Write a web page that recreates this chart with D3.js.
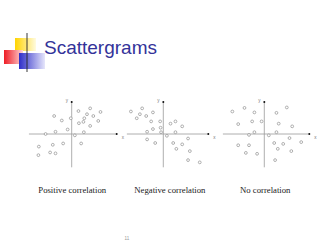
<!DOCTYPE html>
<html>
<head>
<meta charset="utf-8">
<script src="https://cdn.jsdelivr.net/npm/d3@7"></script>
<style>
  html, body { margin: 0; padding: 0; background: #fff; }
  svg { display: block; }
</style>
</head>
<body>
<div id="chart"></div>
<script>
(function () {
  "use strict";

  // ── data (units relative to each panel's origin) ──
  var positivePoints = [
    [4.1, 5.7], [1.5, 5.1], [6.4, 4.9], [3.4, 4.4], [-3.9, 4.0], [4.8, 4.0],
    [2.8, 3.5], [-0.2, 3.5], [-2.2, 3.0], [2.6, 2.7], [5.9, 2.9], [1.6, 2.4],
    [4.1, 1.8], [-0.9, 1.0], [-3.6, 0.5], [2.7, 0.4], [-5.8, 0.0], [0.7, -0.3],
    [-1.9, -2.1], [2.1, -2.1], [-4.2, -2.4], [-7.3, -2.8], [-4.8, -4.1],
    [-3.6, -4.3], [-7.4, -4.7]
  ];
  var negativePoints = [
    [-7.2, 5.0], [-4.7, 5.7], [-5.2, 4.4], [-3.8, 4.0], [-2.3, 4.8], [-5.9, 3.5],
    [-2.7, 2.8], [-0.7, 2.8], [1.6, 2.3], [2.7, 2.8], [-0.6, 1.4], [-2.3, 1.1],
    [4.2, 1.7], [-3.6, 0.5], [-0.5, 0.4], [2.7, 0.4], [0.8, -0.4], [5.5, -1.0],
    [-3.6, -1.2], [-1.8, -2.0], [2.2, -2.0], [4.2, -2.3], [2.9, -3.3],
    [5.9, -3.8], [5.5, -5.8], [8.1, -6.3]
  ];
  var noPoints = [
    [-7.1, 5.0], [-4.4, 5.8], [-2.2, 4.8], [5.0, 5.9], [2.7, 4.7], [-5.8, 2.2],
    [-2.7, 2.8], [-0.6, 2.8], [3.2, 2.3], [6.2, 1.7], [-2.2, 0.4], [-3.4, -0.2],
    [1.0, -0.3], [2.7, 0.4], [5.6, -0.9], [8.2, -1.8], [2.2, -2.0], [4.2, -2.2],
    [-5.8, -2.5], [-3.4, -2.5], [3.0, -3.3], [6.0, -3.8], [-4.1, -4.2],
    [-1.6, -4.4], [2.4, -5.8]
  ];
  var captions = ["Positive correlation", "Negative correlation", "No correlation"];
  var axisX = [[-9.5, 10], [-8.1, 10], [-9.2, 10]];
  var axisY = [-7.4, 7.2];

  var W = 320, H = 240;
  var FONT = "'Liberation Sans', Arial, sans-serif";
  var SERIF = "'Liberation Serif', 'Times New Roman', serif";
  var AXIS = "#9a9a9a";

  var svg = d3.select("#chart").append("svg")
    .attr("width", W).attr("height", H)
    .attr("viewBox", "0 0 " + W + " " + H);

  var defs = svg.append("defs");
  function fade(id, c0, c1) {
    var g = defs.append("linearGradient").attr("id", id);
    g.append("stop").attr("offset", "0%").attr("stop-color", c0);
    g.append("stop").attr("offset", "100%").attr("stop-color", c1);
  }
  fade("g-yellow", "#ffd400", "#fffbe0");
  fade("g-red", "#ee1c25", "#ffd6d6");
  fade("g-blue", "#2e2ec8", "#e6e6fb");
  fade("g-rule", "#8a8a8a", "#ffffff");

  // Title decoration
  svg.append("rect").attr("x", 15).attr("y", 38).attr("width", 21).attr("height", 13)
    .attr("fill", "url(#g-yellow)");
  svg.append("rect").attr("x", 4).attr("y", 50).attr("width", 19).attr("height", 14)
    .attr("fill", "url(#g-red)");
  svg.append("rect").attr("x", 19).attr("y", 53).attr("width", 26).attr("height", 16)
    .attr("fill", "url(#g-blue)");
  svg.append("line").attr("x1", 14).attr("x2", 297).attr("y1", 62.5).attr("y2", 62.5)
    .attr("stroke", "url(#g-rule)").attr("stroke-width", 1.4);
  svg.append("line").attr("x1", 27).attr("x2", 27).attr("y1", 33).attr("y2", 72)
    .attr("stroke", "#222").attr("stroke-width", 0.9);

  svg.append("text").attr("x", 44).attr("y", 53.5)
    .attr("fill", "#333399").attr("font-size", "19px")
    .attr("font-family", FONT).text("Scattergrams");

  // Panels
  var panels = [
    { pts: positivePoints, ox: 71.7 },
    { pts: negativePoints, ox: 163.3 },
    { pts: noPoints, ox: 264.3 }
  ];
  var OY = 134;

  panels.forEach(function (p, i) {
    var x = d3.scaleLinear().domain([-10, 10]).range([p.ox - 45, p.ox + 45]);
    var y = d3.scaleLinear().domain([-10, 10]).range([OY + 45, OY - 45]);
    var g = svg.append("g");

    g.append("line")
      .attr("x1", x(axisX[i][0])).attr("x2", x(axisX[i][1]))
      .attr("y1", y(0)).attr("y2", y(0))
      .attr("stroke", AXIS).attr("stroke-width", 0.8);
    g.append("line")
      .attr("x1", x(0)).attr("x2", x(0))
      .attr("y1", y(axisY[0])).attr("y2", y(axisY[1]))
      .attr("stroke", AXIS).attr("stroke-width", 0.8);

    // arrow tips
    g.append("circle").attr("cx", x(axisX[i][1])).attr("cy", y(0)).attr("r", 1).attr("fill", "#111");
    g.append("circle").attr("cx", x(0)).attr("cy", y(axisY[1]) + 0.5).attr("r", 1).attr("fill", "#111");

    g.append("text").attr("x", x(axisX[i][1]) + 5).attr("y", y(0) + 5)
      .attr("fill", "#777").attr("font-size", "4.5px").attr("font-family", FONT).text("x");
    g.append("text").attr("x", x(0) - 6).attr("y", y(axisY[1]))
      .attr("fill", "#777").attr("font-size", "4.5px").attr("font-family", FONT).text("y");

    g.selectAll("circle.pt").data(p.pts).enter().append("circle")
      .attr("class", "pt")
      .attr("cx", function (d) { return x(d[0]); })
      .attr("cy", function (d) { return y(d[1]); })
      .attr("r", 1.4)
      .attr("fill", "#fff")
      .attr("stroke", "#888").attr("stroke-width", 0.65);
  });

  // Captions
  var capX = [38.3, 134.3, 240];
  captions.forEach(function (c, i) {
    svg.append("text").attr("x", capX[i]).attr("y", 192.5)
      .attr("fill", "#1a1a1a").attr("font-size", "8.7px")
      .attr("font-family", SERIF).text(c);
  });

  // slide number
  svg.append("text").attr("x", 124.5).attr("y", 240)
    .attr("fill", "#999").attr("font-size", "4.5px").attr("font-family", FONT).text("11");
})();
</script>
</body>
</html>
